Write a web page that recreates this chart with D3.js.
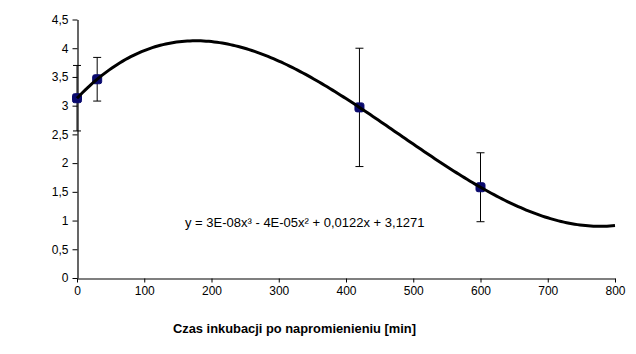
<!DOCTYPE html>
<html>
<head>
<meta charset="utf-8">
<script src="https://cdn.jsdelivr.net/npm/d3@7"></script>
<style>
  body { margin: 0; background: #fff; }
  svg { display: block; font-family: "Liberation Sans", Arial, sans-serif; }
</style>
</head>
<body>
<div id="viz"></div>
<script>
// czas inkubacji [min] i wartosci z odchyleniem
var times = [0, 30, 420, 600];
var values = [3.13, 3.46, 2.97, 1.58];
var errors = [0.57, 0.38, 1.03, 0.6];
var xTicks = [0, 100, 200, 300, 400, 500, 600, 700, 800];
var yTicks = [0, 0.5, 1, 1.5, 2, 2.5, 3, 3.5, 4, 4.5];
var equation = "y = 3E-08x\u00b3 - 4E-05x\u00b2 + 0,0122x + 3,1271";

var width = 636, height = 354;

var svg = d3.select("#viz").append("svg")
  .attr("width", width)
  .attr("height", height);

var x = d3.scaleLinear().domain([0, 800]).range([77, 615]);
var y = d3.scaleLinear().domain([0, 4.5]).range([278, 19.5]);

var comma = function (d) { return String(d).replace(".", ","); };

// y axis
var yAxis = svg.append("g")
  .attr("transform", "translate(77.5,0)")
  .call(d3.axisLeft(y).tickValues(yTicks).tickSize(5).tickSizeOuter(0).tickFormat(comma));

// x axis
var xAxis = svg.append("g")
  .attr("transform", "translate(0,278.5)")
  .call(d3.axisBottom(x).tickValues(xTicks).tickSize(4).tickSizeOuter(0));

[xAxis, yAxis].forEach(function (g) {
  g.select(".domain").attr("stroke", "#000").attr("stroke-width", 1.2);
  g.selectAll(".tick line").attr("stroke", "#000");
  g.selectAll("text").attr("fill", "#000").style("font-size", "12px")
    .style("font-family", "Liberation Sans, Arial, sans-serif");
});
yAxis.selectAll("text").attr("x", -9);
xAxis.selectAll("text").attr("y", 8);

// polynomial trendline (3rd order least squares fitted from the data)
function polyFit(xs, ys, order) {
  var n = order + 1;
  var A = [], b = [];
  for (var r = 0; r < n; r++) {
    A.push([]);
    for (var c = 0; c < n; c++) {
      A[r].push(d3.sum(xs, function (v) { return Math.pow(v, r + c); }));
    }
    b.push(d3.sum(xs, function (v, i) { return Math.pow(v, r) * ys[i]; }));
  }
  // gauss elimination
  for (var k = 0; k < n; k++) {
    var p = k;
    for (var i = k + 1; i < n; i++) if (Math.abs(A[i][k]) > Math.abs(A[p][k])) p = i;
    var tmp = A[k]; A[k] = A[p]; A[p] = tmp;
    var tb = b[k]; b[k] = b[p]; b[p] = tb;
    for (var i2 = k + 1; i2 < n; i2++) {
      var f = A[i2][k] / A[k][k];
      for (var j = k; j < n; j++) A[i2][j] -= f * A[k][j];
      b[i2] -= f * b[k];
    }
  }
  var coef = new Array(n);
  for (var k2 = n - 1; k2 >= 0; k2--) {
    var s = b[k2];
    for (var j2 = k2 + 1; j2 < n; j2++) s -= A[k2][j2] * coef[j2];
    coef[k2] = s / A[k2][k2];
  }
  return coef;
}

var coef = polyFit(times, values, 3);
var trend = d3.range(0, 801, 4).map(function (t) {
  return [t, coef[0] + coef[1] * t + coef[2] * t * t + coef[3] * t * t * t];
});

// error bars
var bars = svg.append("g");
times.forEach(function (t, i) {
  var cx = x(t);
  var yHi = y(values[i] + errors[i]), yLo = y(values[i] - errors[i]);
  bars.append("line").attr("x1", cx).attr("x2", cx).attr("y1", yHi).attr("y2", yLo)
    .attr("stroke", "#000").attr("stroke-width", 1);
  bars.append("line").attr("x1", cx - 4).attr("x2", cx + 4).attr("y1", yHi).attr("y2", yHi)
    .attr("stroke", "#000").attr("stroke-width", 1);
  bars.append("line").attr("x1", cx - 4).attr("x2", cx + 4).attr("y1", yLo).attr("y2", yLo)
    .attr("stroke", "#000").attr("stroke-width", 1);
});

// markers
svg.append("g").selectAll("rect")
  .data(times)
  .enter().append("rect")
  .attr("x", function (d) { return x(d) - 4.5; })
  .attr("y", function (d, i) { return y(values[i]) - 4.5; })
  .attr("width", 9)
  .attr("height", 9)
  .attr("rx", 2)
  .attr("fill", "#0a0a6e")
  .attr("stroke", "#0a0a6e");

// trendline on top
svg.append("path")
  .datum(trend)
  .attr("fill", "none")
  .attr("stroke", "#000")
  .attr("stroke-width", 3)
  .attr("d", d3.line()
    .x(function (d) { return x(d[0]); })
    .y(function (d) { return y(d[1]); }));

// equation label
svg.append("text")
  .attr("x", 185)
  .attr("y", 227)
  .style("font-size", "13px")
  .attr("fill", "#000")
  .text(equation);

// axis title
svg.append("text")
  .attr("x", 173)
  .attr("y", 333)
  .attr("textLength", 243)
  .attr("lengthAdjust", "spacingAndGlyphs")
  .style("font-size", "12px")
  .style("font-weight", "bold")
  .attr("fill", "#000")
  .text("Czas inkubacji po napromienieniu [min]");
</script>
</body>
</html>
